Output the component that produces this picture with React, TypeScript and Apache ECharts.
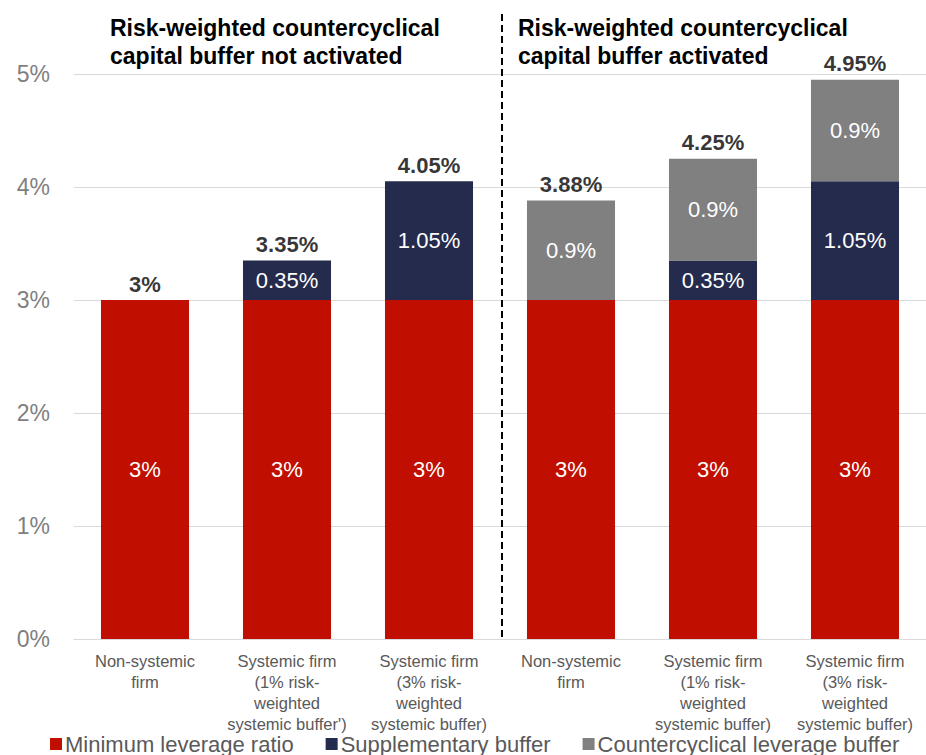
import React, { useEffect, useRef } from "react";
import * as echarts from "echarts";

const categories = [
  "Non-systemic\nfirm",
  "Systemic firm\n(1% risk-\nweighted\nsystemic buffer')",
  "Systemic firm\n(3% risk-\nweighted\nsystemic buffer)",
  "Non-systemic\nfirm",
  "Systemic firm\n(1% risk-\nweighted\nsystemic buffer)",
  "Systemic firm\n(3% risk-\nweighted\nsystemic buffer)",
];
const minimumLeverage = [3, 3, 3, 3, 3, 3];
const supplementary = [0, 0.35, 1.05, 0, 0.35, 1.05];
const countercyclical = [0, 0, 0, 0.88, 0.9, 0.9];
const minimumLabels = ["3%", "3%", "3%", "3%", "3%", "3%"];
const supplementaryLabels = ["", "0.35%", "1.05%", "", "0.35%", "1.05%"];
const countercyclicalLabels = ["", "", "", "0.9%", "0.9%", "0.9%"];
const totals = [3, 3.35, 4.05, 3.88, 4.25, 4.95];
const totalLabels = ["3%", "3.35%", "4.05%", "3.88%", "4.25%", "4.95%"];
const yTicks = [0, 1, 2, 3, 4, 5];
const panelTitles = [
  "Risk-weighted countercyclical\ncapital buffer not activated",
  "Risk-weighted countercyclical\ncapital buffer activated",
];

const FONT = "'Liberation Sans', Arial, sans-serif";

export default function App() {
  const ref = useRef<HTMLDivElement>(null);
  useEffect(() => {
    if (!ref.current) return;
    const chart = echarts.init(ref.current, undefined, { renderer: "svg" });
    const innerLabel = (labels: string[]) => ({
      show: true,
      position: "inside" as const,
      color: "#ffffff",
      fontFamily: FONT,
      fontSize: 22,
      formatter: (p: any) => labels[p.dataIndex],
    });
    chart.setOption({
      animation: false,
      textStyle: { fontFamily: FONT },
      title: [
        {
          text: panelTitles[0],
          left: 105,
          top: 9,
          textStyle: { fontFamily: FONT, fontWeight: "bold", fontSize: 23, lineHeight: 28, color: "#000" },
        },
        {
          text: panelTitles[1],
          left: 513,
          top: 9,
          textStyle: { fontFamily: FONT, fontWeight: "bold", fontSize: 23, lineHeight: 28, color: "#000" },
        },
      ],
      legend: {
        data: ["Minimum leverage ratio", "Supplementary buffer", "Countercyclical leverage buffer"],
        left: 45,
        top: 728,
        icon: "rect",
        itemWidth: 12,
        itemHeight: 12,
        itemGap: 32,
        textStyle: { fontFamily: FONT, fontSize: 22, color: "#595959", padding: [0, 0, 0, -2] },
      },
      grid: { left: 74, right: -3, top: 74, bottom: 116, containLabel: false },
      xAxis: {
        type: "category",
        data: categories,
        axisTick: { show: false },
        axisLine: { lineStyle: { color: "#d9d9d9", width: 1 } },
        axisLabel: {
          interval: 0,
          color: "#595959",
          fontFamily: FONT,
          fontSize: 16.5,
          lineHeight: 21,
          margin: 11,
          verticalAlign: "top",
        },
      },
      yAxis: {
        type: "value",
        min: yTicks[0],
        max: yTicks[yTicks.length - 1],
        interval: 1,
        splitLine: { lineStyle: { color: "#d9d9d9", width: 1 } },
        axisLine: { show: false },
        axisTick: { show: false },
        axisLabel: {
          formatter: (v: number) => `${v}%`,
          color: "#7f7f7f",
          fontFamily: FONT,
          fontSize: 23,
          margin: 24,
        },
      },
      series: [
        {
          name: "Minimum leverage ratio",
          type: "bar",
          stack: "total",
          barWidth: "62%",
          data: minimumLeverage,
          itemStyle: { color: "#c00f00" },
          label: innerLabel(minimumLabels),
        },
        {
          name: "Supplementary buffer",
          type: "bar",
          stack: "total",
          data: supplementary,
          itemStyle: { color: "#252b4d" },
          label: innerLabel(supplementaryLabels),
        },
        {
          name: "Countercyclical leverage buffer",
          type: "bar",
          stack: "total",
          data: countercyclical,
          itemStyle: { color: "#808080" },
          label: innerLabel(countercyclicalLabels),
        },
        {
          name: "Total",
          type: "scatter",
          data: totals,
          symbolSize: 0,
          silent: true,
          label: {
            show: true,
            position: "top",
            distance: 5,
            color: "#000",
            fontFamily: FONT,
            fontWeight: "bold",
            fontSize: 22,
            formatter: (p: any) => totalLabels[p.dataIndex],
          },
        },
      ],
      graphic: [
        {
          type: "line",
          shape: { x1: 502, y1: 14, x2: 502, y2: 638 },
          style: { stroke: "#000", lineWidth: 2, lineDash: [7, 4] },
          z: 10,
        },
      ],
    });
    return () => chart.dispose();
  }, []);
  return (
    <div
      ref={ref}
      style={{ position: "fixed", left: 0, top: 0, width: 926, height: 755, background: "#fff" }}
    />
  );
}
